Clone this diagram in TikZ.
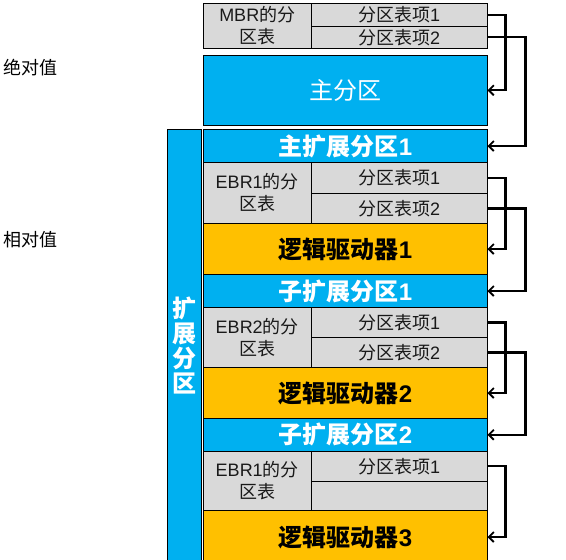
\documentclass[tikz,border=0pt]{standalone}
\usepackage{fontspec}
\setmainfont{Noto Sans CJK SC}
\newfontfamily\lat{Liberation Sans}
\usetikzlibrary{arrows.meta}
\definecolor{pblue}{HTML}{00B0F0}
\definecolor{porange}{HTML}{FFC000}
\definecolor{pgray}{HTML}{D9D9D9}
\begin{document}
\begin{tikzpicture}[x=1pt,y=-1pt,
  base/.style={draw=black, line width=1pt, inner sep=0pt, outer sep=0pt, anchor=north west, align=center},
  cell/.style={base, fill=pgray, text=black!90, font=\fontsize{18}{22}\selectfont},
  bluebox/.style={base, fill=pblue, text=white, font=\fontsize{24}{28}\selectfont\bfseries, minimum width=284pt},
  mainbox/.style={base, fill=pblue, text=white, font=\fontsize{24}{28}\selectfont, minimum width=284pt},
  orangebox/.style={base, fill=porange, text=black, font=\fontsize{24}{28}\selectfont\bfseries, minimum width=284pt},
  lcell/.style={cell, minimum width=107.5pt},
  rcell/.style={cell, minimum width=176.5pt},
  side/.style={font=\fontsize{18}{22}\selectfont, text=black, inner sep=0pt},
  arr/.style={draw=black, line width=2.2pt, -{Straight Barb[length=5pt,width=10pt,line width=1.8pt]}}
]
\useasboundingbox (0,0) rectangle (566,560);

% MBR table
\node[lcell, minimum height=45pt] (mbrL) at (203.5,3.5) {{\lat MBR}的分\\区表};
\node[rcell, minimum height=22.5pt] (mbr1) at (311,3.5) {分区表项{\lat 1}};
\node[rcell, minimum height=22.5pt] (mbr2) at (311,26) {分区表项{\lat 2}};

\node[mainbox, minimum height=70.5pt] (main) at (203.5,55) {主分区};

% extended partition column
\node[base, fill=pblue, minimum width=34.5pt, minimum height=435pt] (col) at (167,129.5) {};
\node[text=white, font=\fontsize{24}{25}\selectfont\bfseries, align=center, inner sep=0pt] (colt) at (184.25,345) {扩\\展\\分\\区};

\node[bluebox, minimum height=33pt] (ext1) at (203.5,129.5) {主扩展分区{\lat 1}};

% EBR1
\node[lcell, minimum height=61pt] (e1L) at (203.5,162.5) {{\lat EBR1}的分\\区表};
\node[rcell, minimum height=31pt] (e1r1) at (311,162.5) {分区表项{\lat 1}};
\node[rcell, minimum height=30pt] (e1r2) at (311,193.5) {分区表项{\lat 2}};
\node[orangebox, minimum height=51pt] (ld1) at (203.5,223.5) {逻辑驱动器{\lat 1}};
\node[bluebox, minimum height=33pt] (sub1) at (203.5,274.5) {子扩展分区{\lat 1}};

% EBR2
\node[lcell, minimum height=60pt] (e2L) at (203.5,307.5) {{\lat EBR2}的分\\区表};
\node[rcell, minimum height=30pt] (e2r1) at (311,307.5) {分区表项{\lat 1}};
\node[rcell, minimum height=30pt] (e2r2) at (311,337.5) {分区表项{\lat 2}};
\node[orangebox, minimum height=51pt] (ld2) at (203.5,367.5) {逻辑驱动器{\lat 2}};
\node[bluebox, minimum height=32.5pt] (sub2) at (203.5,418.5) {子扩展分区{\lat 2}};

% EBR3
\node[lcell, minimum height=59pt] (e3L) at (203.5,451) {{\lat EBR1}的分\\区表};
\node[rcell, minimum height=30.5pt] (e3r1) at (311,451) {分区表项{\lat 1}};
\node[rcell, minimum height=28.5pt] (e3r2) at (311,481.5) {};
\node[orangebox, minimum height=54pt] (ld3) at (203.5,510) {逻辑驱动器{\lat 3}};

% side labels
\node[side] (abs) at (31,68) {绝对值};
\node[side] (rel) at (31,240) {相对值};

% arrows
\draw[arr] (mbr1.east) -- ([xshift=18pt]mbr1.east) |- (main.east);
\draw[arr] (mbr2.east) -- ([xshift=38pt]mbr2.east) |- (ext1.east);
\draw[arr] (e1r1.east) -- ([xshift=18pt]e1r1.east) |- (ld1.east);
\draw[arr] (e1r2.east) -- ([xshift=38pt]e1r2.east) |- (sub1.east);
\draw[arr] (e2r1.east) -- ([xshift=18pt]e2r1.east) |- (ld2.east);
\draw[arr] (e2r2.east) -- ([xshift=38pt]e2r2.east) |- (sub2.east);
\draw[arr] (e3r1.east) -- ([xshift=18pt]e3r1.east) |- (ld3.east);
\end{tikzpicture}
\end{document}
